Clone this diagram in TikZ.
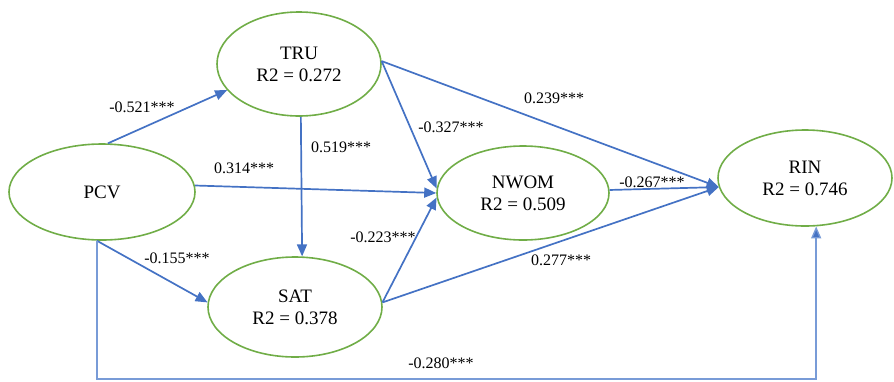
\documentclass[tikz,border=0pt]{standalone}
\usepackage{fontspec}
\setmainfont{Liberation Serif}
\usetikzlibrary{arrows.meta,shapes.geometric}
\definecolor{constructgreen}{RGB}{112,173,71}
\definecolor{pathblue}{RGB}{68,114,196}
\definecolor{softblue}{RGB}{120,155,215}
\tikzset{
  construct/.style={ellipse, draw=constructgreen, line width=1.6pt, inner sep=0pt,
    align=center, font=\fontsize{19}{22}\selectfont},
  path/.style={draw=pathblue, line width=1.7pt,
    -{Triangle[length=12pt,width=10pt]}},
  directpath/.style={draw=softblue, line width=1.4pt,
    -{Triangle[length=12pt,width=10pt,fill=pathblue]}},
  coef/.style={font=\fontsize{16}{18}\selectfont, inner sep=0pt}
}
\begin{document}
\begin{tikzpicture}[x=1pt,y=-1pt]
\useasboundingbox (0,0) rectangle (894,381);

% latent constructs
\node[construct, minimum width=186pt, minimum height=96pt]  (PCV)  at (102,192) {PCV};
\node[construct, minimum width=164pt, minimum height=104pt] (TRU)  at (299,64)  {TRU\\R2 = 0.272};
\node[construct, minimum width=174pt, minimum height=100pt] (SAT)  at (295,307) {SAT\\R2 = 0.378};
\node[construct, minimum width=172pt, minimum height=94pt]  (NWOM) at (523,193) {NWOM\\R2 = 0.509};
\node[construct, minimum width=174pt, minimum height=96pt]  (RIN)  at (805,178) {RIN\\R2 = 0.746};

% structural paths
\draw[path] (PCV.83)  -- (TRU.200);
\draw[path] (PCV.4)   -- (NWOM.180);
\draw[path] (PCV.264) -- (SAT.177);
\draw[path] (TRU.272) -- (SAT.82);
\draw[path] (TRU.2)   -- (NWOM.177);
\draw[path] (TRU.2)   -- (RIN.186);
\draw[path] (SAT.3)   -- (NWOM.183);
\draw[path] (SAT.3)   -- (RIN.186);
\draw[path] (NWOM.2)  -- (RIN.186);

% direct effect of PCV on RIN along the bottom
\coordinate (base) at (0,379);
\draw[directpath] (PCV.264) |- (RIN.283 |- base) -- (RIN.283);

% path coefficients
\node[coef] (c1)  at (142,107) {-0.521***};
\node[coef] (c2)  at (244,168) {0.314***};
\node[coef] (c3)  at (341,147) {0.519***};
\node[coef] (c4)  at (451,127) {-0.327***};
\node[coef] (c5)  at (554,98)  {0.239***};
\node[coef] (c6)  at (652,182) {-0.267***};
\node[coef] (c7)  at (561,260) {0.277***};
\node[coef] (c8)  at (383,237) {-0.223***};
\node[coef] (c9)  at (177,258) {-0.155***};
\node[coef] (c10) at (441,363) {-0.280***};
\end{tikzpicture}
\end{document}
